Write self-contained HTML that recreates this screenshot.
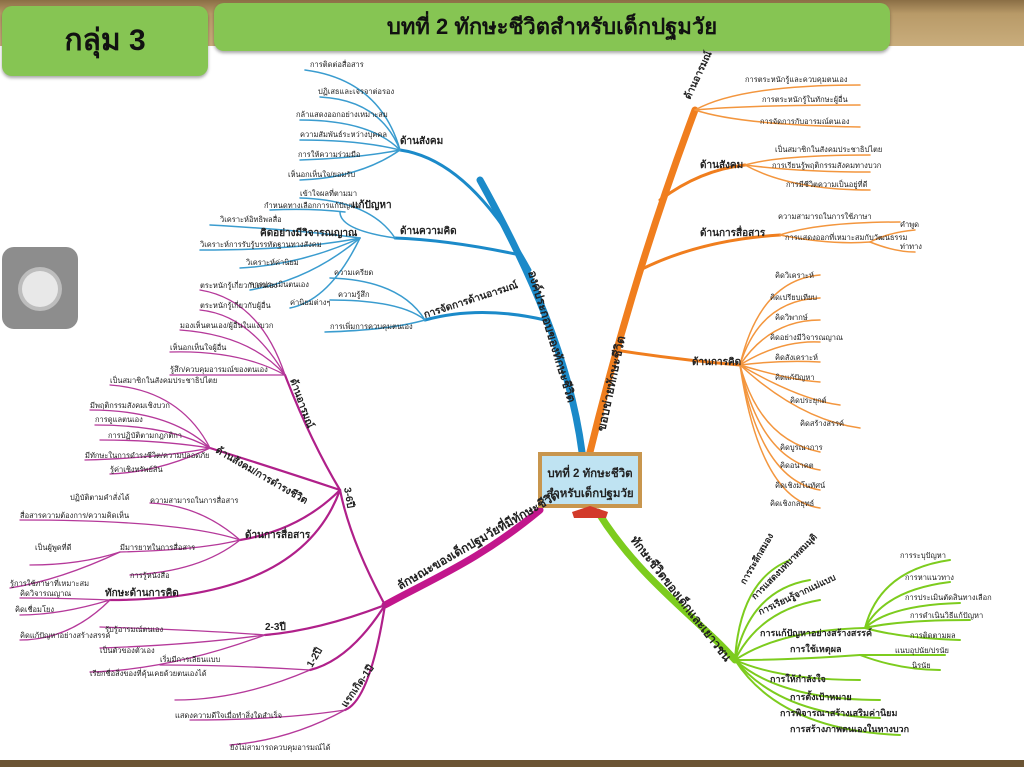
<!DOCTYPE html>
<html><head><meta charset="utf-8"><style>
html,body{margin:0;padding:0}
body{width:1024px;height:767px;overflow:hidden;background:#fff;position:relative;font-family:"Liberation Sans","Noto Sans CJK SC",sans-serif}
.top{position:absolute;left:0;top:0;width:1024px;height:46px;background:linear-gradient(#8a6e45,#b89a68 30%,#c9ad7c)}
.g{position:absolute;background:#86c553;border-radius:10px;box-shadow:0 2px 3px rgba(0,0,0,.35);color:#111;text-align:center}
.bot{position:absolute;left:0;top:760px;width:1024px;height:7px;background:#6b5434}
.btn{position:absolute;left:2px;top:247px;width:76px;height:82px;background:#8d8d8d;border-radius:12px}
.btn i{position:absolute;left:20px;top:24px;width:36px;height:36px;border-radius:50%;background:#e8e8e8;box-shadow:0 0 0 4px #bdbdbd}
svg{position:absolute;left:0;top:0}
text{font-family:"Liberation Sans","Noto Sans CJK SC",sans-serif;fill:#222}
</style></head><body>
<div class="top"></div>
<div class="g" style="left:2px;top:6px;width:206px;height:70px;line-height:70px;font-size:30px;font-weight:bold">กลุ่ม 3</div>
<div class="g" style="left:214px;top:3px;width:676px;height:48px;line-height:48px;font-size:22px;font-weight:bold">บทที่ 2 ทักษะชีวิตสำหรับเด็กปฐมวัย</div>
<div class="btn"><i></i></div>
<svg width="1024" height="767" viewBox="0 0 1024 767">
<g fill="none" stroke-linecap="round">
<!-- blue -->
<path d="M582,452 C570,360 530,270 480,180" stroke="#1b8ac9" stroke-width="7"/>
<path d="M530,270 Q470,160 400,150" stroke="#1b8ac9" stroke-width="3"/>
<path d="M520,255 Q450,240 395,238" stroke="#1b8ac9" stroke-width="3"/>
<path d="M545,320 Q480,305 425,320" stroke="#1b8ac9" stroke-width="3"/>
<g stroke="#3a9ccf" stroke-width="1.5">
<path d="M400,150 Q380,80 305,70"/><path d="M400,150 Q380,100 320,97"/><path d="M400,150 Q370,120 300,120"/><path d="M400,150 Q360,140 300,140"/><path d="M400,150 Q360,158 300,160"/><path d="M400,150 Q360,178 300,180"/>
<path d="M395,238 Q370,200 300,198"/><path d="M395,238 Q340,230 340,212"/><path d="M345,212 Q310,208 270,210"/>
<path d="M360,238 Q300,230 210,225"/><path d="M360,238 Q300,250 200,250"/><path d="M360,238 Q300,265 240,268"/><path d="M360,238 Q310,280 250,290"/><path d="M360,238 Q330,300 290,308"/>
<path d="M425,320 Q400,280 330,278"/><path d="M425,320 Q400,300 330,300"/><path d="M425,320 Q390,330 325,332"/>
</g>
<!-- orange -->
<path d="M590,452 C615,350 650,230 695,110" stroke="#f07e1e" stroke-width="7"/>
<path d="M660,200 Q700,170 745,165" stroke="#f07e1e" stroke-width="3"/>
<path d="M640,270 Q700,240 780,235" stroke="#f07e1e" stroke-width="3"/>
<path d="M615,350 Q680,360 740,365" stroke="#f07e1e" stroke-width="3"/>
<g stroke="#f3963e" stroke-width="1.5">
<path d="M695,110 Q740,85 860,85"/><path d="M695,110 Q750,105 860,105"/><path d="M695,110 Q740,125 860,127"/>
<path d="M745,165 Q780,155 870,155"/><path d="M745,165 Q800,172 870,172"/><path d="M745,165 Q790,190 870,190"/>
<path d="M780,235 Q820,222 900,222"/><path d="M780,235 Q830,245 870,242"/><path d="M870,242 Q890,232 915,230"/><path d="M870,242 Q895,252 915,252"/>
<path d="M740,365 Q760,280 820,275"/><path d="M740,365 Q760,300 820,298"/><path d="M740,365 Q770,320 820,320"/><path d="M740,365 Q780,340 820,342"/><path d="M740,365 Q780,360 820,362"/><path d="M740,365 Q790,380 820,382"/><path d="M740,365 Q800,400 840,405"/><path d="M740,365 Q800,420 860,428"/><path d="M740,365 Q760,440 820,452"/><path d="M740,365 Q760,460 820,470"/><path d="M740,365 Q760,480 820,490"/><path d="M740,365 Q760,500 820,508"/>
</g>
<!-- green -->
<path d="M598,512 C640,580 700,620 735,660" stroke="#7dcc1e" stroke-width="7"/>
<g stroke="#7dcc1e" stroke-width="2">
<path d="M735,660 Q740,580 790,560"/><path d="M735,660 Q750,590 810,580"/><path d="M735,660 Q760,610 820,600"/><path d="M735,660 Q780,630 865,628"/><path d="M735,660 Q790,660 860,655"/><path d="M735,660 Q780,680 860,680"/><path d="M735,660 Q780,700 880,700"/><path d="M735,660 Q780,715 880,718"/><path d="M735,660 Q780,730 900,735"/>
<path d="M865,628 Q880,570 950,560"/><path d="M865,628 Q885,590 950,582"/><path d="M865,628 Q890,605 960,603"/><path d="M865,628 Q900,620 970,620"/><path d="M865,628 Q900,638 960,640"/>
<path d="M860,655 Q900,655 945,655"/><path d="M860,655 Q900,670 940,670"/>
</g>
<!-- magenta -->
<path d="M540,510 C480,560 430,580 385,605" stroke="#c2168c" stroke-width="7"/>
<g stroke="#b0208a" stroke-width="2.2">
<path d="M385,605 Q350,540 340,490"/><path d="M340,490 Q310,440 285,375"/><path d="M340,490 Q280,470 210,448"/><path d="M340,490 Q300,530 240,540"/><path d="M340,490 Q300,600 110,600"/>
<path d="M385,605 Q320,630 265,635"/><path d="M385,605 Q350,660 310,670"/><path d="M385,605 Q370,700 345,710"/>
</g>
<g stroke="#b5399a" stroke-width="1.3">
<path d="M285,375 Q260,300 200,290"/><path d="M285,375 Q250,315 200,310"/><path d="M285,375 Q250,335 180,330"/><path d="M285,375 Q240,350 170,352"/><path d="M285,375 Q240,375 170,375"/>
<path d="M210,448 Q180,390 110,385"/><path d="M210,448 Q170,410 90,410"/><path d="M210,448 Q170,425 95,425"/><path d="M210,448 Q160,440 100,440"/><path d="M210,448 Q160,458 85,460"/><path d="M210,448 Q160,472 110,474"/>
<path d="M240,540 Q200,505 150,503"/><path d="M240,540 Q180,520 20,520"/><path d="M240,540 Q200,550 120,552"/><path d="M240,540 Q200,572 130,575"/><path d="M120,552 Q80,565 30,565"/><path d="M120,552 Q60,580 10,588"/>
<path d="M110,600 Q60,598 20,598"/><path d="M110,600 Q60,615 20,615"/><path d="M110,600 Q70,640 20,640"/>
<path d="M265,635 Q200,630 100,627"/><path d="M265,635 Q190,645 100,648"/><path d="M265,635 Q170,670 90,672"/>
<path d="M310,670 Q230,665 160,665"/><path d="M310,670 Q240,700 175,700"/>
<path d="M345,710 Q280,720 190,720"/><path d="M345,710 Q290,740 230,745"/>
</g>
</g>
<!-- center board -->
<rect x="538" y="452" width="104" height="56" fill="#c8964e"/>
<rect x="542" y="456" width="96" height="48" fill="#bfe3f2"/>
<text x="590" y="477" text-anchor="middle" font-size="11.5" font-weight="bold">บทที่ 2 ทักษะชีวิต</text>
<text x="590" y="497" text-anchor="middle" font-size="11.5" font-weight="bold">สำหรับเด็กปฐมวัย</text>
<path d="M572,512 L590,506 L608,512 L606,518 L574,518Z" fill="#d23a2a"/>
<!-- main labels -->
<text font-size="12" font-weight="bold" transform="translate(528,272) rotate(73)">องค์ประกอบของทักษะชีวิต</text>
<text font-size="12" font-weight="bold" transform="translate(605,432) rotate(-78)">ขอบข่ายทักษะชีวิต</text>
<text font-size="12" font-weight="bold" transform="translate(630,540) rotate(52)">ทักษะชีวิตของเด็กและเยาวชน</text>
<text font-size="12" font-weight="bold" transform="translate(400,590) rotate(-30)">ลักษณะของเด็กปฐมวัยที่มีทักษะชีวิต</text>
<g font-size="10" font-weight="bold">
<text x="400" y="144">ด้านสังคม</text><text x="400" y="234">ด้านความคิด</text><text transform="translate(425,318) rotate(-18)">การจัดการด้านอารมณ์</text>
<text transform="translate(690,100) rotate(-65)">ด้านอารมณ์</text><text x="700" y="168">ด้านสังคม</text><text x="700" y="236">ด้านการสื่อสาร</text><text x="692" y="365">ด้านการคิด</text>
<text x="352" y="208">แก้ปัญหา</text><text x="260" y="236">คิดอย่างมีวิจารณญาณ</text>
<text transform="translate(290,380) rotate(70)">ด้านอารมณ์</text><text transform="translate(215,452) rotate(30)">ด้านสังคม/การดำรงชีวิต</text>
<text x="245" y="538">ด้านการสื่อสาร</text><text x="105" y="596">ทักษะด้านการคิด</text>
<text transform="translate(344,488) rotate(80)">3-6ปี</text><text x="265" y="630">2-3ปี</text><text transform="translate(312,668) rotate(-60)">1-2ปี</text><text transform="translate(346,708) rotate(-55)">แรกเกิด-1ปี</text>
</g>
<g font-size="7.5">
<text x="310" y="67">การติดต่อสื่อสาร</text><text x="318" y="94">ปฏิเสธและเจรจาต่อรอง</text><text x="296" y="117">กล้าแสดงออกอย่างเหมาะสม</text><text x="300" y="137">ความสัมพันธ์ระหว่างบุคคล</text><text x="298" y="157">การให้ความร่วมมือ</text><text x="288" y="177">เห็นอกเห็นใจ/ยอมรับ</text>
<text x="300" y="196">เข้าใจผลที่ตามมา</text><text x="264" y="208">กำหนดทางเลือกการแก้ปัญหา</text>
<text x="220" y="222">วิเคราะห์อิทธิพลสื่อ</text><text x="200" y="247">วิเคราะห์การรับรู้บรรทัดฐานทางสังคม</text><text x="246" y="265">วิเคราะห์ค่านิยม</text><text x="250" y="287">การประเมินตนเอง</text><text x="290" y="305">ค่านิยมต่างๆ</text>
<text x="334" y="275">ความเครียด</text><text x="338" y="297">ความรู้สึก</text><text x="330" y="329">การเพิ่มการควบคุมตนเอง</text>
<text x="745" y="82">การตระหนักรู้และควบคุมตนเอง</text><text x="762" y="102">การตระหนักรู้ในทักษะผู้อื่น</text><text x="760" y="124">การจัดการกับอารมณ์ตนเอง</text>
<text x="775" y="152">เป็นสมาชิกในสังคมประชาธิปไตย</text><text x="772" y="168">การเรียนรู้พฤติกรรมสังคมทางบวก</text><text x="786" y="187">การมีชีวิตความเป็นอยู่ที่ดี</text>
<text x="778" y="219">ความสามารถในการใช้ภาษา</text><text x="785" y="240">การแสดงออกที่เหมาะสมกับวัฒนธรรม</text><text x="900" y="227">คำพูด</text><text x="900" y="249">ท่าทาง</text>
<text x="775" y="278">คิดวิเคราะห์</text><text x="770" y="300">คิดเปรียบเทียบ</text><text x="775" y="320">คิดวิพากษ์</text><text x="770" y="340">คิดอย่างมีวิจารณญาณ</text><text x="775" y="360">คิดสังเคราะห์</text><text x="775" y="380">คิดแก้ปัญหา</text><text x="790" y="403">คิดประยุกต์</text><text x="800" y="426">คิดสร้างสรรค์</text><text x="780" y="450">คิดบูรณาการ</text><text x="780" y="468">คิดอนาคต</text><text x="775" y="488">คิดเชิงมโนทัศน์</text><text x="770" y="506">คิดเชิงกลยุทธ์</text>
<text x="900" y="558">การระบุปัญหา</text><text x="905" y="580">การหาแนวทาง</text><text x="905" y="600">การประเมินตัดสินทางเลือก</text><text x="910" y="618">การดำเนินวิธีแก้ปัญหา</text><text x="910" y="638">การติดตามผล</text><text x="895" y="653">แนบอุปนัย/ปรนัย</text><text x="912" y="668">นิรนัย</text>
<text x="110" y="383">เป็นสมาชิกในสังคมประชาธิปไตย</text><text x="90" y="408">มีพฤติกรรมสังคมเชิงบวก</text><text x="95" y="422">การดูแลตนเอง</text><text x="108" y="438">การปฏิบัติตามกฎกติกา</text><text x="85" y="458">มีทักษะในการดำรงชีวิต/ความปลอดภัย</text><text x="110" y="472">รู้ค่าเชิงทรัพย์สิน</text>
<text x="200" y="288">ตระหนักรู้เกี่ยวกับตนเอง</text><text x="200" y="308">ตระหนักรู้เกี่ยวกับผู้อื่น</text><text x="180" y="328">มองเห็นตนเอง/ผู้อื่นในแง่บวก</text><text x="170" y="350">เห็นอกเห็นใจผู้อื่น</text><text x="170" y="372">รู้สึก/ควบคุมอารมณ์ของตนเอง</text>
<text x="70" y="500">ปฏิบัติตามคำสั่งได้</text><text x="20" y="518">สื่อสารความต้องการ/ความคิดเห็น</text><text x="35" y="550">เป็นผู้พูดที่ดี</text><text x="10" y="586">รู้การใช้ภาษาที่เหมาะสม</text><text x="130" y="578">การรู้หนังสือ</text><text x="150" y="503">ความสามารถในการสื่อสาร</text><text x="120" y="550">มีมารยาทในการสื่อสาร</text>
<text x="20" y="596">คิดวิจารณญาณ</text><text x="15" y="612">คิดเชื่อมโยง</text><text x="20" y="638">คิดแก้ปัญหาอย่างสร้างสรรค์</text>
<text x="105" y="632">รับรู้อารมณ์ตนเอง</text><text x="100" y="653">เป็นตัวของตัวเอง</text><text x="90" y="676">เรียกชื่อสิ่งของที่คุ้นเคยด้วยตนเองได้</text>
<text x="160" y="662">เริ่มมีการเลียนแบบ</text><text x="175" y="718">แสดงความดีใจเมื่อทำสิ่งใดสำเร็จ</text><text x="230" y="750">ยังไม่สามารถควบคุมอารมณ์ได้</text>
</g>
<g font-size="9" font-weight="bold">
<text transform="translate(745,585) rotate(-60)">การระลึกสมอง</text><text transform="translate(755,600) rotate(-45)">การแสดงบทบาทสมมุติ</text><text transform="translate(760,615) rotate(-25)">การเรียนรู้จากแม่แบบ</text><text x="760" y="636">การแก้ปัญหาอย่างสร้างสรรค์</text><text x="790" y="652">การใช้เหตุผล</text><text x="770" y="682">การให้กำลังใจ</text><text x="790" y="700">การตั้งเป้าหมาย</text><text x="780" y="716">การพิจารณาสร้างเสริมค่านิยม</text><text x="790" y="732">การสร้างภาพตนเองในทางบวก</text>
</g>
</svg>
<div class="bot"></div>
</body></html>
